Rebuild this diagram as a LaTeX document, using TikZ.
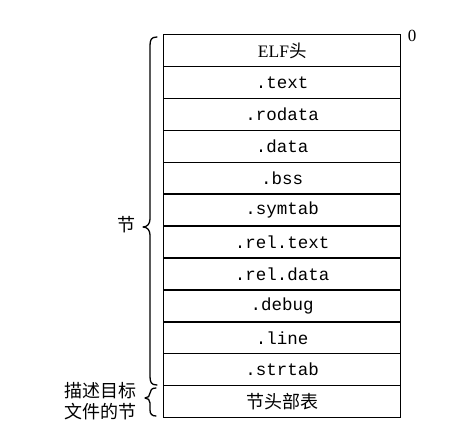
\documentclass[tikz,border=0pt]{standalone}
\usepackage{fontspec}
\setmainfont{Liberation Serif}
\setmonofont{Liberation Mono}
\newfontfamily\cjk{Noto Sans CJK SC}
\begin{document}
\begin{tikzpicture}[x=1pt,y=-1pt,
  row/.style={draw,line width=1.4pt,minimum width=237pt,minimum height=31.9pt,inner sep=0pt,anchor=north west,font=\ttfamily\fontsize{17.5}{17.5}\selectfont},
  brace/.style={line width=1.3pt,line cap=round,line join=round},
  lbl/.style={font=\cjk\fontsize{18}{21}\selectfont,inner sep=0pt,align=center}]
\useasboundingbox (0,0) rectangle (461,433);
\def\rh{31.9}
\node[row] (r0) at (163,34) {\rmfamily\fontsize{17.5}{17.5}\selectfont ELF{\cjk 头}};
\node[row] (r1) at (163,34+1*\rh) {.text};
\node[row] (r2) at (163,34+2*\rh) {.rodata};
\node[row] (r3) at (163,34+3*\rh) {.data};
\node[row] (r4) at (163,34+4*\rh) {.bss};
\node[row] (r5) at (163,34+5*\rh) {.symtab};
\node[row] (r6) at (163,34+6*\rh) {.rel.text};
\node[row] (r7) at (163,34+7*\rh) {.rel.data};
\node[row] (r8) at (163,34+8*\rh) {.debug};
\node[row] (r9) at (163,34+9*\rh) {.line};
\node[row] (r10) at (163,34+10*\rh) {.strtab};
\node[row,font=\cjk\fontsize{18}{18}\selectfont] (r11) at (163,34+11*\rh) {节头部表};
\node[font=\rmfamily\fontsize{17}{17}\selectfont,inner sep=0pt] (zero) at (412,36) {0};
% big brace
\draw[brace] (157,37) .. controls (151,37) and (150,40) .. (150,46) -- (150,219)
  .. controls (150,224) and (147,227) .. (143,227)
  .. controls (147,227) and (150,230) .. (150,235) -- (150,376)
  .. controls (150,382) and (151,385) .. (157,385);
\node[lbl] (sec) at (126,225) {节};
% small brace
\draw[brace] (156,388) .. controls (152,388) and (150,390) .. (150,393)
  .. controls (150,396) and (148,398) .. (145,398)
  .. controls (148,398) and (150,400) .. (150,403) -- (150,410)
  .. controls (150,414) and (152,416) .. (156,416);
\node[lbl] (desc) at (100,401) {描述目标\\文件的节};
\end{tikzpicture}
\end{document}
